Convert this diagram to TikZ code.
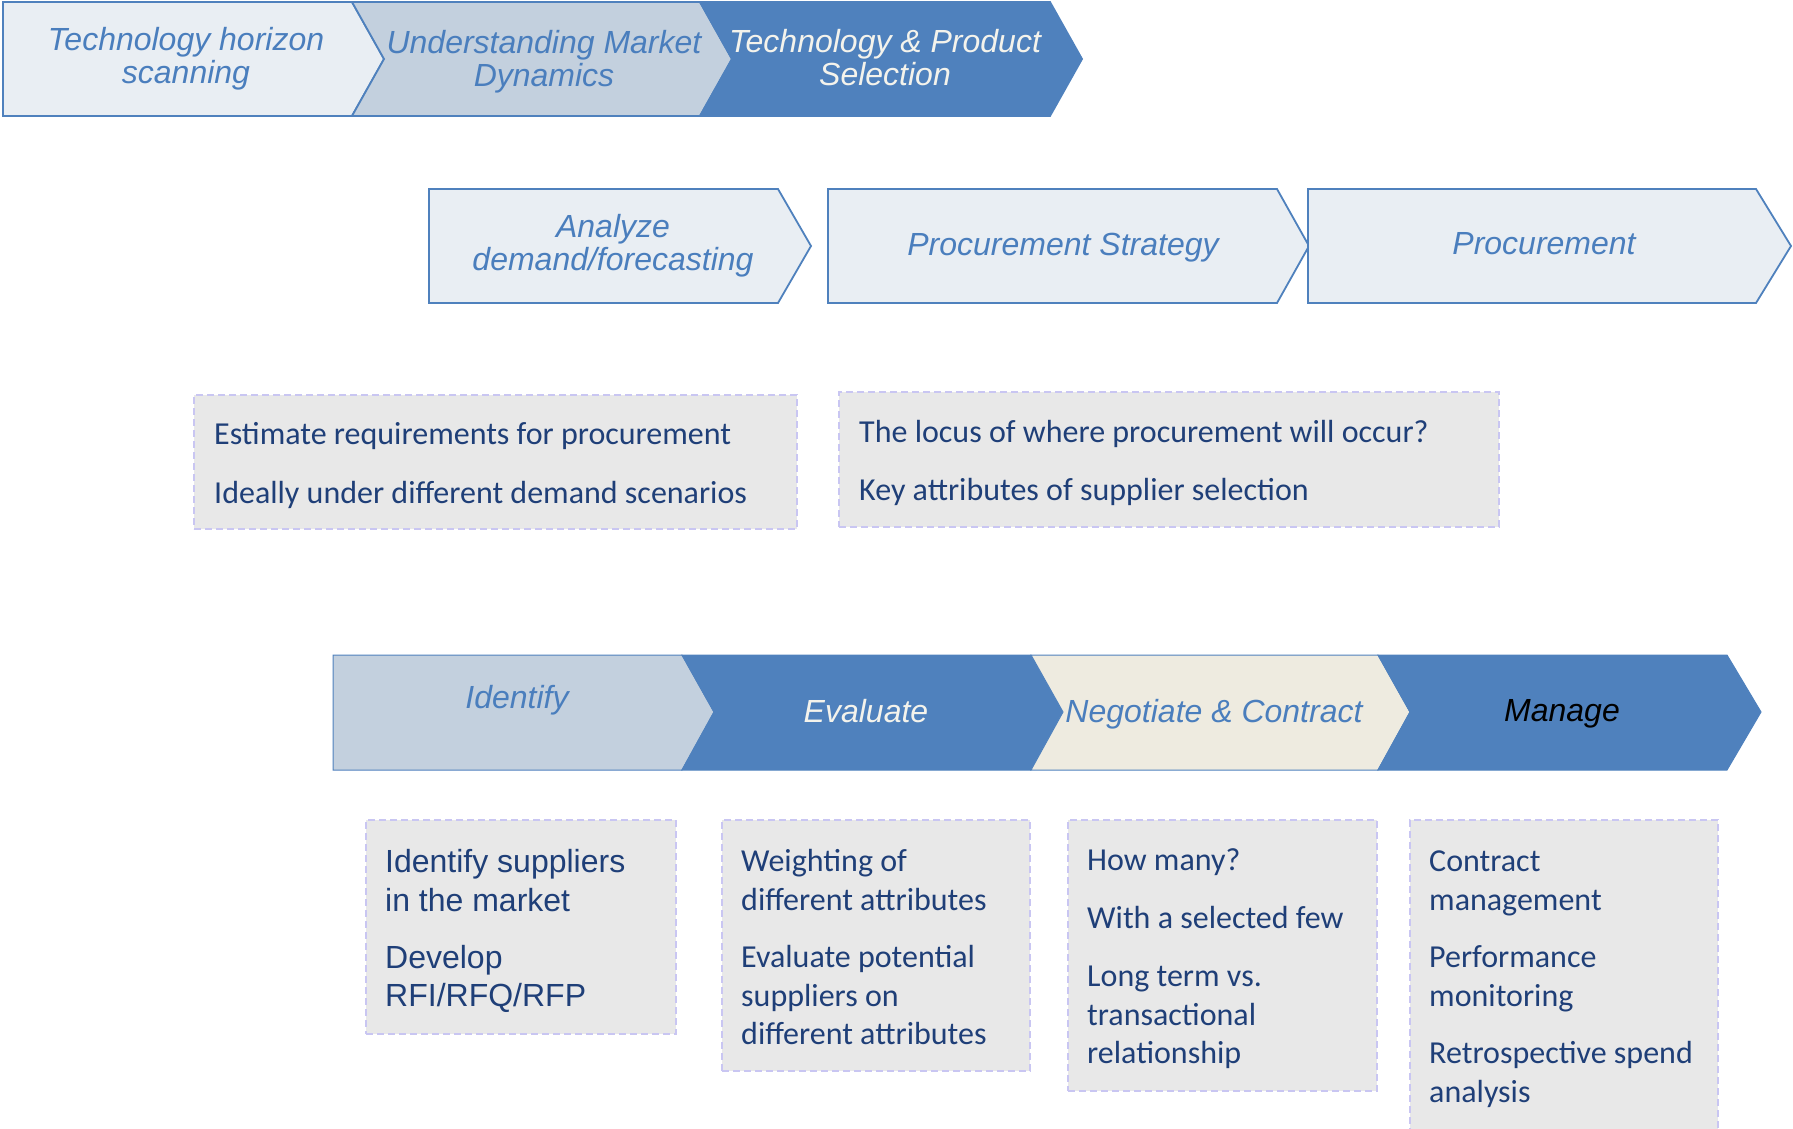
\documentclass[tikz,border=0pt]{standalone}
\usepackage{fontspec}
\setmainfont{Liberation Sans}
\newfontfamily\calfont{Carlito}
\definecolor{cblue}{HTML}{4F81BD}
\definecolor{lightfill}{HTML}{E9EEF3}
\definecolor{midfill}{HTML}{C3D0DE}
\definecolor{creamfill}{HTML}{EEEBE0}
\definecolor{creamtext}{HTML}{F4F3EC}
\definecolor{boxgray}{HTML}{E8E8E8}
\definecolor{dashc}{HTML}{C9C6F2}
\definecolor{navy}{HTML}{1F3F78}
\definecolor{ttext}{HTML}{4A7EBD}
\tikzset{
  chev/.style={draw=cblue, line width=1.8pt, line join=miter},
  chevthin/.style={draw=cblue, line width=1pt, line join=miter},
  dbox/.style={draw=dashc, dash pattern=on 7pt off 4pt, fill=boxgray, line width=1.8pt, inner sep=0pt, outer sep=0pt, anchor=north west},
  ct/.style={font=\fontsize{32}{33}\selectfont\itshape, align=center, inner sep=0pt},
  bt/.style={font=\calfont\fontsize{32}{38}\selectfont, text=navy, anchor=base west, inner sep=0pt},
  arialtxt/.style={font=\fontsize{32}{38}\selectfont, text=navy, anchor=base west, inner sep=0pt},
}
\begin{document}
\begin{tikzpicture}[x=1pt,y=-1pt]
\useasboundingbox (0,0) rectangle (1793,1129);
% ---------- top row ----------
\filldraw[chev, fill=lightfill] (3,2) -- (352,2) -- (384,59) -- (352,116) -- (3,116) -- cycle;
\filldraw[chev, fill=midfill] (352,2) -- (700,2) -- (732,59) -- (700,116) -- (352,116) -- (384,59) -- cycle;
\filldraw[chev, fill=cblue] (700,2) -- (1050,2) -- (1082,59) -- (1050,116) -- (700,116) -- (732,59) -- cycle;
\node[ct, text=ttext] (t1) at (186,59) {Technology horizon\\scanning};
\node[ct, text=ttext] (t2) at (544,62) {Understanding Market\\Dynamics};
\node[ct, text=creamtext] (t3) at (885,58) {Technology \& Product\\Selection};
% ---------- middle row ----------
\filldraw[chev, fill=lightfill] (429,189) -- (778,189) -- (811,246) -- (778,303) -- (429,303) -- cycle;
\filldraw[chev, fill=lightfill] (828,189) -- (1277,189) -- (1309,246) -- (1277,303) -- (828,303) -- cycle;
\filldraw[chev, fill=lightfill] (1308,189) -- (1756,189) -- (1791,246) -- (1756,303) -- (1308,303) -- cycle;
\node[ct, text=ttext] (m1) at (613,246) {Analyze\\demand/forecasting};
\node[ct, text=ttext] (m2) at (1063,248) {Procurement Strategy};
\node[ct, text=ttext] (m3) at (1544,244) {Procurement};
% ---------- middle dashed boxes ----------
\node[dbox, minimum width=603pt, minimum height=134pt] (d1) at (194,395) {};
\node[dbox, minimum width=660pt, minimum height=135pt] (d2) at (839,392) {};
\node[bt] (d1a) at (214,444) {Estimate requirements for procurement};
\node[bt] (d1b) at (214,503) {Ideally under different demand scenarios};
\node[bt] (d2a) at (859,442) {The locus of where procurement will occur?};
\node[bt] (d2b) at (859,500) {Key attributes of supplier selection};
% ---------- bottom row ----------
\filldraw[chevthin, fill=midfill] (333,655) -- (682,655) -- (714,712) -- (682,770) -- (333,770) -- cycle;
\filldraw[chevthin, fill=cblue] (682,655) -- (1031,655) -- (1063,712) -- (1031,770) -- (682,770) -- (714,712) -- cycle;
\filldraw[chevthin, fill=creamfill] (1031,655) -- (1378,655) -- (1410,712) -- (1378,770) -- (1031,770) -- (1063,712) -- cycle;
\filldraw[chevthin, fill=cblue] (1378,655) -- (1727,655) -- (1761,712) -- (1727,770) -- (1378,770) -- (1410,712) -- cycle;
\node[ct, text=ttext] (b1) at (517,700) {Identify};
\node[ct, text=creamtext] (b2) at (866,711) {Evaluate};
\node[ct, text=ttext] (b3) at (1214,714) {Negotiate \& Contract};
\node[ct, text=black] (b4) at (1562,714) {Manage};
% ---------- bottom dashed boxes ----------
\node[dbox, minimum width=310pt, minimum height=214pt] (e1) at (366,820) {};
\node[dbox, minimum width=308pt, minimum height=251pt] (e2) at (722,820) {};
\node[dbox, minimum width=309pt, minimum height=271pt] (e3) at (1068,820) {};
\node[dbox, minimum width=308pt, minimum height=330pt] (e4) at (1410,820) {};
\node[arialtxt] (e1a) at (385,872) {Identify suppliers};
\node[arialtxt] (e1b) at (385,911) {in the market};
\node[arialtxt] (e1c) at (385,968) {Develop};
\node[arialtxt] (e1d) at (385,1006) {RFI/RFQ/RFP};
\node[bt] (e2a) at (741,871) {Weighting of};
\node[bt] (e2b) at (741,910) {different attributes};
\node[bt] (e2c) at (741,967) {Evaluate potential};
\node[bt] (e2d) at (741,1006) {suppliers on};
\node[bt] (e2e) at (741,1044) {different attributes};
\node[bt] (e3a) at (1087,870) {How many?};
\node[bt] (e3b) at (1087,928) {With a selected few};
\node[bt] (e3c) at (1087,986) {Long term vs.};
\node[bt] (e3d) at (1087,1025) {transactional};
\node[bt] (e3e) at (1087,1063) {relationship};
\node[bt] (e4a) at (1429,871) {Contract};
\node[bt] (e4b) at (1429,910) {management};
\node[bt] (e4c) at (1429,967) {Performance};
\node[bt] (e4d) at (1429,1006) {monitoring};
\node[bt] (e4e) at (1429,1063) {Retrospective spend};
\node[bt] (e4f) at (1429,1102) {analysis};
\end{tikzpicture}
\end{document}
